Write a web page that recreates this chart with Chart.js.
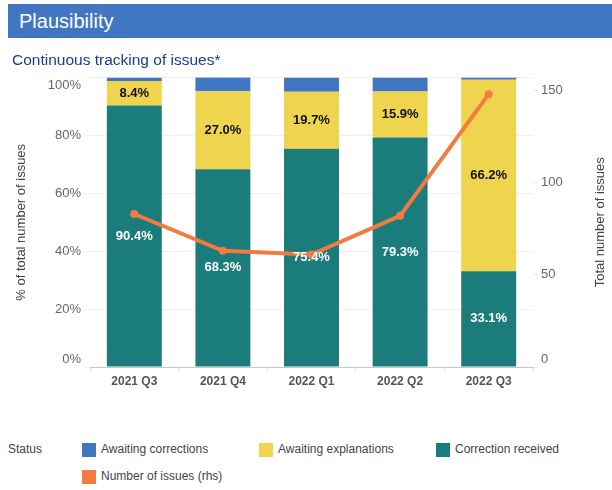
<!DOCTYPE html>
<html>
<head>
  <meta charset="UTF-8">
  <title>Plausibility</title>
  <script src="https://cdn.jsdelivr.net/npm/chart.js"></script>
  <style>
    body { margin: 0; width: 612px; height: 490px; background: #fff; font-family: "Liberation Sans", Arial, sans-serif; position: relative; overflow: hidden; }
    .header { position: absolute; left: 8px; top: 4px; width: 604px; height: 34px; background: #4177C1; color: #fff; font-size: 20px; line-height: 34px; padding-left: 11px; box-sizing: border-box; z-index: 2; }
    .subtitle { position: absolute; left: 12px; top: 51px; font-size: 15.5px; color: #1B3C96; z-index: 2; }
    #wrap { position: absolute; left: 0; top: 59px; width: 612px; height: 337px; }
    .legend { position: absolute; left: 0; top: 0; font-size: 12px; color: #444; }
    .legend span { position: absolute; white-space: nowrap; }
    .box { position: absolute; width: 14px; height: 14px; }
  </style>
</head>
<body>
  <div id="wrap"><canvas id="chart"></canvas></div>
  <div class="header">Plausibility</div>
  <div class="subtitle">Continuous tracking of issues*</div>
  <div class="legend" id="legend"></div>

  <script>
    // 數據
    const quarters = ['2021 Q3', '2021 Q4', '2022 Q1', '2022 Q2', '2022 Q3'];
    const correctionReceived = [90.4, 68.3, 75.4, 79.3, 33.1];
    const awaitingExplanations = [8.4, 27.0, 19.7, 15.9, 66.2];
    const awaitingCorrections = [1.2, 4.8, 4.9, 4.8, 0.7];
    const numberOfIssues = [83, 63, 61, 82, 148];
    const leftTicks = [0, 20, 40, 60, 80, 100];
    const rightTicks = [0, 50, 100, 150];

    const colBlue = '#4177C1';
    const colYellow = '#EFD44E';
    const colTeal = '#1A7D7C';
    const colOrange = '#F47B40';

    // 柱內百分比標籤
    const barLabels = {
      id: 'barLabels',
      afterDatasetsDraw(chart) {
        const ctx = chart.ctx;
        ctx.save();
        ctx.font = 'bold 13px "Liberation Sans", Arial, sans-serif';
        ctx.textAlign = 'center';
        ctx.textBaseline = 'middle';
        chart.data.datasets.forEach((ds, i) => {
          if (!ds.showLabel) return;
          const meta = chart.getDatasetMeta(i);
          meta.data.forEach((bar, j) => {
            const y = (bar.y + bar.base) / 2;
            ctx.fillStyle = ds.labelColor;
            ctx.fillText(ds.data[j].toFixed(1) + '%', bar.x, y);
          });
        });
        ctx.restore();
      }
    };

    // 右軸標題 (由下往上)
    const rightTitle = {
      id: 'rightTitle',
      afterDraw(chart) {
        const ctx = chart.ctx;
        const area = chart.chartArea;
        ctx.save();
        ctx.translate(600, (area.top + area.bottom) / 2);
        ctx.rotate(-Math.PI / 2);
        ctx.font = '13px "Liberation Sans", Arial, sans-serif';
        ctx.fillStyle = '#444';
        ctx.textAlign = 'center';
        ctx.textBaseline = 'middle';
        ctx.fillText('Total number of issues', 0, 0);
        ctx.restore();
      }
    };

    // 頂端和底端的刻度文字往內移
    function clampLabel(text, value, lo, hi) {
      if (value === hi) return ['', text];
      if (value === lo) return [text, ''];
      return text;
    }

    const chart = new Chart(document.getElementById('chart'), {
      data: {
        labels: quarters,
        datasets: [
          { type: 'line', label: 'Number of issues (rhs)', data: numberOfIssues, yAxisID: 'y1',
            borderColor: colOrange, backgroundColor: colOrange, borderWidth: 4,
            pointRadius: 4, pointBackgroundColor: colOrange, pointBorderWidth: 0, order: 0, tension: 0 },
          { type: 'bar', label: 'Correction received', data: correctionReceived, backgroundColor: colTeal,
            yAxisID: 'y', order: 1, showLabel: true, labelColor: '#fff', barPercentage: 0.62, categoryPercentage: 1 },
          { type: 'bar', label: 'Awaiting explanations', data: awaitingExplanations, backgroundColor: colYellow,
            yAxisID: 'y', order: 1, showLabel: true, labelColor: '#111', barPercentage: 0.62, categoryPercentage: 1 },
          { type: 'bar', label: 'Awaiting corrections', data: awaitingCorrections, backgroundColor: colBlue,
            yAxisID: 'y', order: 1, barPercentage: 0.62, categoryPercentage: 1 }
        ]
      },
      options: {
        responsive: true,
        maintainAspectRatio: false,
        animation: false,
        layout: { padding: { top: 4, bottom: 0, left: 0, right: 0 } },
        plugins: { legend: { display: false }, tooltip: { enabled: false } },
        scales: {
          x: {
            stacked: true,
            grid: { drawOnChartArea: false, tickLength: 5, color: '#e4e4e4' },
            border: { dash: [2, 2], color: '#c8c8c8' },
            ticks: { color: '#555', font: { size: 12, weight: 'bold', family: '"Liberation Sans", Arial' }, padding: 2 },
            afterFit(scale) { scale.height = 29; }
          },
          y: {
            stacked: true, min: 0, max: 100, position: 'left',
            afterBuildTicks(scale) { scale.ticks = leftTicks.map(v => ({ value: v })); },
            grid: { color: '#eeeeee', tickLength: 6, tickColor: '#f2f2f2' },
            border: { display: false },
            ticks: { color: '#666', font: { size: 13, family: '"Liberation Sans", Arial' }, padding: 3,
              callback: v => clampLabel(v + '%', v, 0, 100) },
            title: { display: true, text: '% of total number of issues', color: '#444', font: { size: 13, family: '"Liberation Sans", Arial' }, padding: { top: 14, bottom: 0 } },
            afterFit(scale) { scale.width = 90; }
          },
          y1: {
            min: 0, max: 157, position: 'right',
            afterBuildTicks(scale) { scale.ticks = rightTicks.map(v => ({ value: v })); },
            grid: { drawOnChartArea: false, tickLength: 5, color: '#e8e8e8' },
            border: { display: false },
            ticks: { color: '#666', font: { size: 13, family: '"Liberation Sans", Arial' }, padding: 3,
              callback: v => clampLabel(String(v), v, 0, -1) },
            afterFit(scale) { scale.width = 79; }
          }
        }
      },
      plugins: [barLabels, rightTitle]
    });

    // 圖例
    const legend = document.getElementById('legend');
    const items = [
      { text: 'Awaiting corrections', color: colBlue, x: 82, y: 450 },
      { text: 'Awaiting explanations', color: colYellow, x: 259, y: 450 },
      { text: 'Correction received', color: colTeal, x: 436, y: 450 },
      { text: 'Number of issues (rhs)', color: colOrange, x: 82, y: 477 }
    ];
    let html = '<span style="left:8px;top:442px">Status</span>';
    items.forEach(it => {
      html += '<div class="box" style="left:' + it.x + 'px;top:' + (it.y - 7) + 'px;background:' + it.color + '"></div>';
      html += '<span style="left:' + (it.x + 19) + 'px;top:' + (it.y - 8) + 'px">' + it.text + '</span>';
    });
    legend.innerHTML = html;
  </script>
</body>
</html>
